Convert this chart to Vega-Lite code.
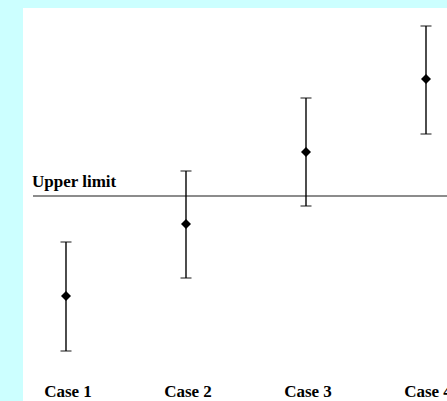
{
  "$schema": "https://vega.github.io/schema/vega-lite/v6.json",
  "width": 424,
  "height": 393,
  "autosize": {"type": "none"},
  "padding": {"left": 23, "top": 8, "right": 0, "bottom": 0},
  "background": "#ccffff",
  "view": {"fill": "white", "stroke": null},
  "config": {"font": "Liberation Serif"},
  "datasets": {
    "cases": [
      {"pos": 1, "label": "Case 1", "mean": 10.5, "low": 5.0, "high": 15.9},
      {"pos": 2, "label": "Case 2", "mean": 17.7, "low": 12.3, "high": 23.0},
      {"pos": 3, "label": "Case 3", "mean": 24.9, "low": 19.5, "high": 30.3},
      {"pos": 4, "label": "Case 4", "mean": 32.2, "low": 26.7, "high": 37.5}
    ],
    "limit": [
      {"start": 0.725, "end": 4.175, "value": 20.5, "text": "Upper limit", "textY": 21.4, "textX": 0.717}
    ]
  },
  "layer": [
    {
      "data": {"name": "limit"},
      "mark": {"type": "rule", "color": "#666666", "strokeWidth": 1.6},
      "encoding": {
        "x": {"field": "start", "type": "quantitative", "scale": {"domain": [0.6417, 4.175], "nice": false, "zero": false}, "axis": null},
        "x2": {"field": "end"},
        "y": {"field": "value", "type": "quantitative", "scale": {"domain": [0, 39.3], "nice": false, "zero": false}, "axis": null}
      }
    },
    {
      "data": {"name": "limit"},
      "mark": {"type": "text", "align": "left", "baseline": "alphabetic", "font": "Liberation Serif", "fontWeight": "bold", "fontSize": 17, "color": "#000000"},
      "encoding": {
        "x": {"field": "textX", "type": "quantitative"},
        "y": {"field": "textY", "type": "quantitative"},
        "text": {"field": "text"}
      }
    },
    {
      "data": {"name": "cases"},
      "mark": {"type": "rule", "color": "#000000", "strokeWidth": 1.4},
      "encoding": {
        "x": {"field": "pos", "type": "quantitative"},
        "y": {"field": "low", "type": "quantitative"},
        "y2": {"field": "high"}
      }
    },
    {
      "data": {"name": "cases"},
      "mark": {"type": "tick", "orient": "horizontal", "color": "#000000", "size": 11, "thickness": 1.3},
      "encoding": {
        "x": {"field": "pos", "type": "quantitative"},
        "y": {"field": "low", "type": "quantitative"}
      }
    },
    {
      "data": {"name": "cases"},
      "mark": {"type": "tick", "orient": "horizontal", "color": "#000000", "size": 11, "thickness": 1.3},
      "encoding": {
        "x": {"field": "pos", "type": "quantitative"},
        "y": {"field": "high", "type": "quantitative"}
      }
    },
    {
      "data": {"name": "cases"},
      "mark": {"type": "point", "shape": "diamond", "filled": true, "color": "#000000", "size": 100, "opacity": 1},
      "encoding": {
        "x": {"field": "pos", "type": "quantitative"},
        "y": {"field": "mean", "type": "quantitative"}
      }
    },
    {
      "data": {"name": "cases"},
      "mark": {"type": "text", "align": "center", "baseline": "alphabetic", "font": "Liberation Serif", "fontWeight": "bold", "fontSize": 17, "color": "#000000", "dx": 2},
      "encoding": {
        "x": {"field": "pos", "type": "quantitative"},
        "y": {"datum": 0.4, "type": "quantitative"},
        "text": {"field": "label"}
      }
    }
  ]
}
